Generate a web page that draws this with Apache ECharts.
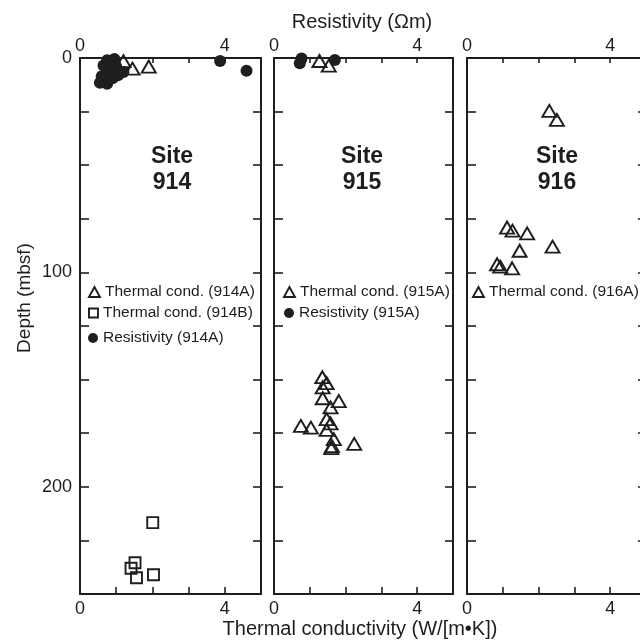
<!DOCTYPE html>
<html>
<head>
<meta charset="utf-8">
<script src="https://cdn.jsdelivr.net/npm/echarts@6/dist/echarts.min.js"></script>
<style>html,body{margin:0;padding:0;background:#fff}#c{width:640px;height:641px}</style>
</head>
<body>
<div id="c"></div>
<script>
// ---- data: [value, depth (mbsf)] ----
const sites = ['914', '915', '916'];
const xTickLabels = [0, 4];
const yTickLabels = [0, 100, 200];

const cond914A = [[1.2, 1.5], [1.45, 5.0], [1.9, 4.0]];
const cond914B = [[2.01, 216.7], [1.52, 235.4], [1.41, 238.0], [1.56, 242.4], [2.03, 241.0]];
const res914A = [[0.75, 1.0], [0.95, 0.5], [0.65, 3.5], [1.0, 4.0], [0.85, 6.0], [1.2, 6.5],
  [0.6, 8.5], [0.9, 9.5], [0.55, 11.5], [0.75, 12.0], [1.05, 8.0], [3.87, 1.4], [4.6, 6.0]];

const cond915A = [[1.27, 1.4], [1.53, 3.6],
  [1.35, 148.9], [1.47, 151.7], [1.36, 153.6], [1.36, 158.7], [1.81, 160.0], [1.58, 163.0],
  [1.47, 168.4], [1.58, 170.4], [0.75, 171.6], [1.03, 172.4], [1.47, 173.5], [1.67, 177.8],
  [2.24, 180.0], [1.62, 181.0], [1.60, 182.0]];
const res915A = [[0.77, 0.2], [0.72, 2.5], [1.70, 0.9]];

const cond916A = [[2.30, 24.7], [2.51, 28.9], [1.12, 79.1], [1.27, 80.5], [1.68, 81.8],
  [2.39, 88.0], [1.47, 89.9], [0.84, 96.2], [0.93, 97.3], [1.26, 98.1]];

// ---- layout ----
const INK = '#1e1e1e';
const FONT = '"Liberation Sans", Arial, Helvetica, sans-serif';
const grids = [
  { left: 80, top: 58, width: 181, height: 536, outerBoundsMode: 'none', containLabel: false },
  { left: 274, top: 58, width: 179, height: 536, outerBoundsMode: 'none', containLabel: false },
  { left: 467, top: 58, width: 179, height: 536, outerBoundsMode: 'none', containLabel: false }
];

const xAxes = [], yAxes = [];
grids.forEach((g, i) => {
  const xl = v => (xTickLabels.includes(v) ? String(v) : '');
  const common = {
    gridIndex: i, type: 'value', min: 0, max: 5, interval: 1,
    axisLine: { show: true, onZero: false, lineStyle: { color: INK, width: 2 } },
    splitLine: { show: false },
    axisLabel: { formatter: xl, color: INK, fontSize: 18, fontFamily: FONT, showMinLabel: true, showMaxLabel: true }
  };
  xAxes.push(Object.assign({}, common, {
    position: 'bottom',
    axisTick: { show: true, inside: true, length: 7, lineStyle: { color: INK, width: 1.6 } },
    axisLabel: Object.assign({}, common.axisLabel, { margin: 6 })
  }));
  xAxes.push(Object.assign({}, common, {
    position: 'top',
    axisTick: { show: true, inside: true, length: 5, lineStyle: { color: INK, width: 1.6 } },
    axisLabel: Object.assign({}, common.axisLabel, { margin: 3 })
  }));
  const ycommon = {
    gridIndex: i, type: 'value', min: 0, max: 250, interval: 25, inverse: true,
    axisLine: { show: true, onZero: false, lineStyle: { color: INK, width: 2 } },
    splitLine: { show: false }
  };
  yAxes.push(Object.assign({}, ycommon, {
    position: 'left',
    axisTick: { show: true, inside: true, length: 9, lineStyle: { color: INK, width: 1.6 } },
    axisLabel: {
      show: i === 0, margin: 8, color: INK, fontSize: 18, fontFamily: FONT,
      formatter: v => (yTickLabels.includes(v) ? String(v) : ''), showMinLabel: true
    }
  }));
  yAxes.push(Object.assign({}, ycommon, {
    position: 'right',
    axisTick: { show: true, inside: true, length: 8, lineStyle: { color: INK, width: 1.6 } },
    axisLabel: { show: false }
  }));
});

const hollow = { color: 'rgba(255,255,255,0)', borderColor: INK, borderWidth: 1.9, opacity: 1 };
const filled = { color: INK, borderWidth: 0, opacity: 1 };

function tri(name, data, g) {
  return { name, type: 'scatter', data, xAxisIndex: 2 * g, yAxisIndex: 2 * g,
    symbol: 'triangle', symbolSize: [14, 12], itemStyle: hollow, z: 3 };
}
function sq(name, data, g) {
  return { name, type: 'scatter', data, xAxisIndex: 2 * g, yAxisIndex: 2 * g,
    symbol: 'rect', symbolSize: [11, 11], itemStyle: hollow, z: 3 };
}
function dot(name, data, g) {
  return { name, type: 'scatter', data, xAxisIndex: 2 * g + 1, yAxisIndex: 2 * g,
    symbol: 'circle', symbolSize: 12, itemStyle: filled, z: 2 };
}

const series = [
  tri('Thermal cond. (914A)', cond914A, 0),
  sq('Thermal cond. (914B)', cond914B, 0),
  dot('Resistivity (914A)', res914A, 0),
  tri('Thermal cond. (915A)', cond915A, 1),
  dot('Resistivity (915A)', res915A, 1),
  tri('Thermal cond. (916A)', cond916A, 2)
];

function leg(name, icon, left, cy, style, w, h) {
  return {
    data: [{ name, icon }], left, top: cy - 9, itemWidth: w, itemHeight: h, itemGap: 0,
    selectedMode: false, padding: 0, itemStyle: style,
    textStyle: { color: INK, fontSize: 15.5, fontFamily: FONT, lineHeight: 18 }
  };
}
const legends = [
  leg('Thermal cond. (914A)', 'triangle', 88, 292, hollow, 11, 10),
  leg('Thermal cond. (914B)', 'rect', 88, 313, hollow, 9, 9),
  leg('Resistivity (914A)', 'circle', 88, 338, filled, 10, 10),
  leg('Thermal cond. (915A)', 'triangle', 283, 292, hollow, 11, 10),
  leg('Resistivity (915A)', 'circle', 284, 313, filled, 10, 10),
  leg('Thermal cond. (916A)', 'triangle', 472, 292, hollow, 11, 10)
];

const siteCenters = [172, 362, 557];
const graphic = [
  { type: 'text', x: 362, y: 22, style: { text: 'Resistivity (Ωm)', fill: INK, font: '20px ' + FONT, textAlign: 'center', textVerticalAlign: 'middle' } },
  { type: 'text', x: 360, y: 629, style: { text: 'Thermal conductivity (W/[m•K])', fill: INK, font: '20px ' + FONT, textAlign: 'center', textVerticalAlign: 'middle' } },
  { type: 'text', x: 25, y: 298, rotation: Math.PI / 2, style: { text: 'Depth (mbsf)', fill: INK, font: '19px ' + FONT, textAlign: 'center', textVerticalAlign: 'middle' } }
];
sites.forEach((s, i) => {
  graphic.push({ type: 'text', x: siteCenters[i], y: 157, style: { text: 'Site', fill: INK, font: 'bold 23px ' + FONT, textAlign: 'center', textVerticalAlign: 'middle' } });
  graphic.push({ type: 'text', x: siteCenters[i], y: 183, style: { text: s, fill: INK, font: 'bold 23px ' + FONT, textAlign: 'center', textVerticalAlign: 'middle' } });
});

const chart = echarts.init(document.getElementById('c'), null, { renderer: 'canvas' });
chart.setOption({
  backgroundColor: '#fff',
  animation: false,
  grid: grids,
  xAxis: xAxes,
  yAxis: yAxes,
  legend: legends,
  series,
  graphic
});
</script>
</body>
</html>
